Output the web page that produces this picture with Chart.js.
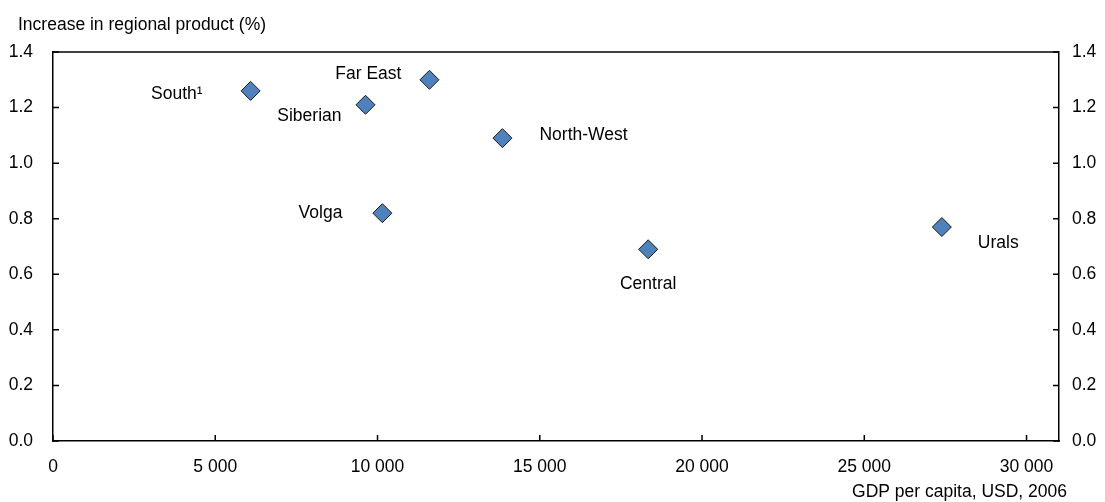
<!DOCTYPE html>
<html>
<head>
<meta charset="utf-8">
<script src="https://cdn.jsdelivr.net/npm/chart.js@4/dist/chart.umd.min.js"></script>
<style>
  body { margin: 0; background: #ffffff; }
  #wrap { width: 1105px; height: 502px; }
</style>
</head>
<body>
<div id="wrap"><canvas id="regionChart" width="1105" height="502"></canvas></div>
<script>
// Regional GDP per capita vs increase in regional product
const regions = ['South\u00B9', 'Siberian', 'Far East', 'North-West', 'Volga', 'Central', 'Urals'];
const gdpPerCapita = [6090, 9630, 11600, 13850, 10150, 18340, 27390];
const productIncrease = [1.26, 1.21, 1.30, 1.09, 0.82, 0.69, 0.77];
const xTicks = [0, 5000, 10000, 15000, 20000, 25000, 30000];
const yTicks = [0, 0.2, 0.4, 0.6, 0.8, 1.0, 1.2, 1.4];

const yTitle = 'Increase in regional product (%)';
const xTitle = 'GDP per capita, USD, 2006';

// where each region name sits relative to its marker
const labelPlace = [
  { align: 'right', dx: -48, dy: 3 },
  { align: 'right', dx: -24, dy: 11 },
  { align: 'right', dx: -28, dy: -6 },
  { align: 'left', dx: 37, dy: -3 },
  { align: 'right', dx: -40, dy: 0 },
  { align: 'center', dx: 0, dy: 35 },
  { align: 'left', dx: 36, dy: 16 }
];

const FONT = '"Liberation Sans", Arial, sans-serif';
const FSIZE = 17.5;
const INK = '#000000';

const points = gdpPerCapita.map((x, i) => ({ x: x, y: productIncrease[i] }));

function spaced(v) {
  return String(v).replace(/\B(?=(\d{3})+(?!\d))/g, ' ');
}

const framePlugin = {
  id: 'frame',
  afterDatasetsDraw(chart) {
    const c = chart.ctx;
    const a = chart.chartArea;
    const sx = chart.scales.x;
    const sy = chart.scales.y;
    c.save();
    c.strokeStyle = INK;
    c.lineWidth = 1.5;
    // top border
    c.beginPath();
    c.moveTo(a.left, a.top);
    c.lineTo(a.right, a.top);
    c.stroke();
    // inward tick marks
    c.beginPath();
    xTicks.forEach(v => {
      const px = sx.getPixelForValue(v);
      c.moveTo(px, a.bottom);
      c.lineTo(px, a.bottom - 6);
    });
    yTicks.forEach(v => {
      const py = sy.getPixelForValue(v);
      c.moveTo(a.left, py);
      c.lineTo(a.left + 6, py);
      c.moveTo(a.right, py);
      c.lineTo(a.right - 6, py);
    });
    c.stroke();

    // region names
    c.fillStyle = '#000000';
    c.font = FSIZE + 'px ' + FONT;
    c.textBaseline = 'middle';
    const meta = chart.getDatasetMeta(0);
    meta.data.forEach((pt, i) => {
      const p = labelPlace[i];
      c.textAlign = p.align;
      c.fillText(regions[i], pt.x + p.dx, pt.y + p.dy);
    });

    // axis titles
    c.textAlign = 'left';
    c.fillText(yTitle, 18, 25);
    c.textAlign = 'right';
    c.fillText(xTitle, 1067, 492);
    c.restore();
  }
};

new Chart(document.getElementById('regionChart'), {
  type: 'scatter',
  data: {
    datasets: [{
      data: points,
      pointStyle: 'rectRot',
      pointRadius: 9.5,
      pointHoverRadius: 9.5,
      backgroundColor: '#4f81bd',
      borderColor: '#1a1a1a',
      borderWidth: 1,
      clip: false
    }]
  },
  options: {
    responsive: false,
    animation: false,
    layout: {
      padding: { top: 52, left: 0, right: 0, bottom: 0 }
    },
    plugins: {
      legend: { display: false },
      tooltip: { enabled: false }
    },
    scales: {
      x: {
        type: 'linear',
        min: 0,
        max: 31000,
        afterBuildTicks: s => { s.ticks = xTicks.map(v => ({ value: v })); },
        afterFit: s => { s.height = 61; },
        grid: { drawOnChartArea: false, drawTicks: false },
        border: { display: true, color: INK, width: 1.5 },
        ticks: {
          padding: 16,
          maxRotation: 0,
          color: '#000000',
          font: { family: FONT, size: FSIZE },
          callback: v => spaced(v)
        }
      },
      y: {
        position: 'left',
        min: 0,
        max: 1.4,
        afterBuildTicks: s => { s.ticks = yTicks.map(v => ({ value: v })); },
        afterFit: s => { s.width = 53; },
        grid: { drawOnChartArea: false, drawTicks: false },
        border: { display: true, color: INK, width: 1.5 },
        ticks: {
          padding: 20,
          color: '#000000',
          font: { family: FONT, size: FSIZE },
          callback: v => Number(v).toFixed(1)
        }
      },
      y2: {
        position: 'right',
        min: 0,
        max: 1.4,
        afterBuildTicks: s => { s.ticks = yTicks.map(v => ({ value: v })); },
        afterFit: s => { s.width = 46; },
        grid: { drawOnChartArea: false, drawTicks: false },
        border: { display: true, color: INK, width: 1.5 },
        ticks: {
          padding: 13,
          color: '#000000',
          font: { family: FONT, size: FSIZE },
          callback: v => Number(v).toFixed(1)
        }
      }
    }
  },
  plugins: [framePlugin]
});
</script>
</body>
</html>
